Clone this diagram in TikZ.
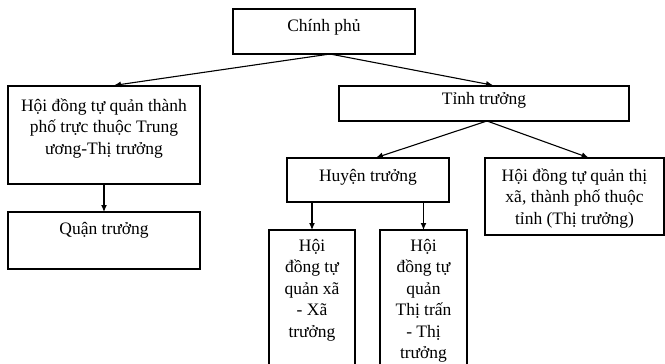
\documentclass[tikz,border=0pt]{standalone}
\usepackage{fontspec}
\setmainfont{Liberation Serif}
\usetikzlibrary{calc,arrows.meta,positioning}
\tikzset{
    office/.style={
    rectangle,draw=black,line width=1.1pt,inner sep=0pt,outer sep=0pt,anchor=north west
    },
    link/.style={
    -{Latex[length=7pt,width=6pt]},line width=1.1pt,shorten >=4pt
    },
}
% width, height, top gap, text
\newcommand{\officetext}[4]{\parbox[t][#2pt][t]{#1pt}{\centering\vspace*{#3pt}\strut#4}}

\begin{document}
\begin{tikzpicture}[x=1pt, y=-1pt, font=\fontsize{17.5}{21.5}\selectfont]
   \useasboundingbox (0,0) rectangle (665,364);

   \node[office] (CP) at (233,9) {\officetext{182}{45}{7}{Chính phủ}};
   \node[office] (HDTP) at (8,86) {\officetext{192}{98}{10}{Hội đồng tự quản thành\\phố trực thuộc Trung\\ương-Thị trưởng}};
   \node[office] (TT) at (339,86) {\officetext{290}{35}{3}{Tỉnh trưởng}};
   \node[office] (QT) at (8,212) {\officetext{192}{57}{7}{Quận trưởng}};
   \node[office] (HT) at (287,158) {\officetext{162}{44}{8}{Huyện trưởng}};
   \node[office] (HDTX) at (485,158) {\officetext{179}{77}{8}{Hội đồng tự quản thị\\xã, thành phố thuộc\\tỉnh (Thị trưởng)}};
   \node[office] (XA) at (269,230) {\officetext{86}{150}{6}{Hội\\đồng tự\\quản xã\\- Xã\\trưởng}};
   \node[office] (TTR) at (380,230) {\officetext{87}{150}{6}{Hội\\đồng tự\\quản\\Thị trấn\\- Thị\\trưởng}};

  \path[link]
    ($(CP.south)+(6,0)$) edge ($(HDTP.north)+(6,0)$)
                         edge ($(TT.north)+(13,0)$)
    ($(TT.south)+(3,0)$) edge[shorten >=1pt] ($(HT.north)+(7,0)$)
                         edge[shorten >=1pt] ($(HDTX.north)+(15,0)$)
    (HDTP.south) edge[shorten >=0pt] (QT.north)
    (XA.north |- HT.south) edge[shorten >=0pt] (XA.north)
    (TTR.north |- HT.south) edge[shorten >=0pt] (TTR.north);
\end{tikzpicture}
\end{document}
